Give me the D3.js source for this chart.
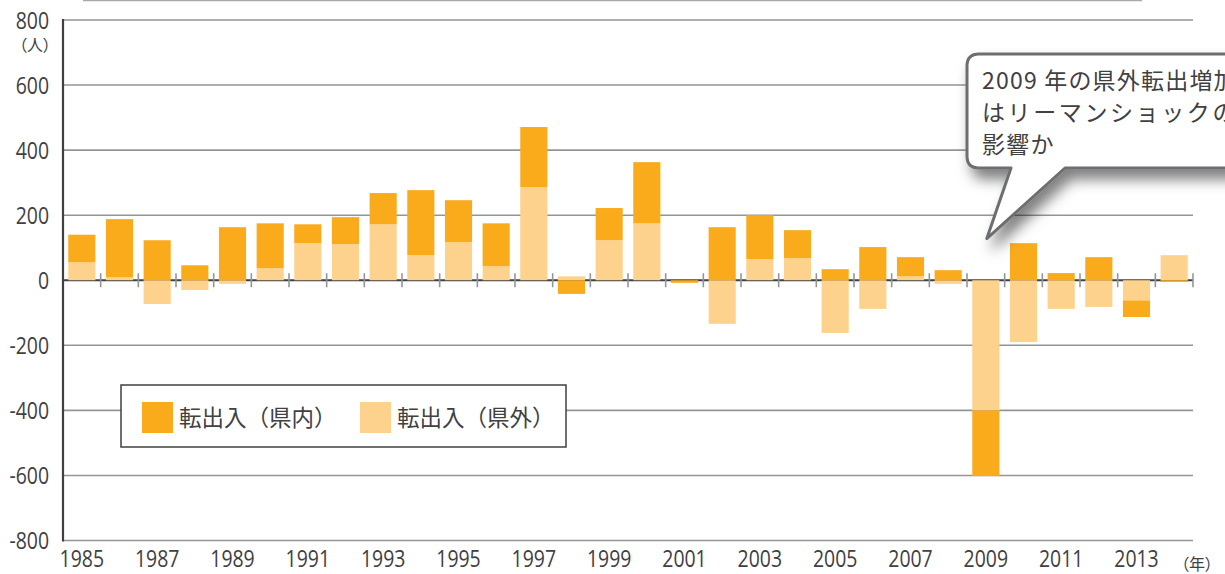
<!DOCTYPE html>
<html>
<head>
  <meta charset="utf-8">
  <title>転出入の推移</title>
  <script src="https://d3js.org/d3.v7.min.js"></script>
  <style>
    body { margin: 0; background: #fff; }
    .num { font-family: "Open Sans", "Noto Sans", sans-serif; fill: #414042; }
    .jp { font-family: "Noto Sans CJK JP", sans-serif; fill: #414042; }
  </style>
</head>
<body>
<script>

// years on the x axis
var years = [1985, 1986, 1987, 1988, 1989, 1990, 1991, 1992, 1993, 1994,
             1995, 1996, 1997, 1998, 1999, 2000, 2001, 2002, 2003, 2004,
             2005, 2006, 2007, 2008, 2009, 2010, 2011, 2012, 2013, 2014];

// 転出入（県内）
var kennai = [85, 179, 123, 46, 163, 138, 58, 83, 96, 200,
              129, 132, 185, -42, 99, 188, -8, 163, 135, 86,
              34, 102, 59, 31, -202, 114, 22, 71, -51, -5];

// 転出入（県外）
var kengai = [55, 9, -73, -30, -11, 37, 114, 111, 172, 77,
              117, 43, 286, 12, 123, 175, 0, -134, 65, 68,
              -162, -88, 12, -11, -400, -190, -88, -82, -62, 77];

var yTicks = [-800, -600, -400, -200, 0, 200, 400, 600, 800];
var legendLabels = ["転出入（県内）", "転出入（県外）"];
var noteLines = ["2009 年の県外転出増加", "はリーマンショックの", "影響か"];

var colDark = "#f9ab1c", colLight = "#fdd28d";
var grid = "#939598", ink = "#414042";

var width = 1225, height = 574;
var margin = {left: 63, right: 32, top: 20, bottom: 33};
var squeeze = 0.81;   // narrow the digits a bit

var svg = d3.select("body").append("svg")
    .attr("width", width)
    .attr("height", height);

var defs = svg.append("defs");
var f = defs.append("filter").attr("id", "shadow")
    .attr("x", "-20%").attr("y", "-20%").attr("width", "150%").attr("height", "190%");
f.append("feDropShadow").attr("dx", 6).attr("dy", 10).attr("stdDeviation", 7)
    .attr("flood-color", "#000").attr("flood-opacity", 0.5);

var x = d3.scaleBand()
    .domain(years)
    .range([margin.left, width - margin.right])
    .paddingInner(0.28)
    .paddingOuter(0.14);

var y = d3.scaleLinear()
    .domain([-800, 800])
    .range([height - margin.bottom - 0.5, margin.top]);

var rows = years.map(function(yr, i) {
  return {year: yr, kengai: kengai[i], kennai: kennai[i]};
});

var series = d3.stack()
    .keys(["kengai", "kennai"])
    .offset(d3.stackOffsetDiverging)(rows);

// stray rule at the very top
svg.append("line")
    .attr("x1", 83).attr("x2", 1142).attr("y1", 0.5).attr("y2", 0.5)
    .attr("stroke", "#a7a9ac").attr("stroke-width", 1.5);

// grid lines
svg.append("g").selectAll("line")
  .data(yTicks.filter(function(d) { return d !== 0; }))
  .enter().append("line")
    .attr("x1", margin.left).attr("x2", width - margin.right)
    .attr("y1", function(d) { return y(d); })
    .attr("y2", function(d) { return y(d); })
    .attr("stroke", grid)
    .attr("stroke-width", 1.6);

// zero line
svg.append("line")
    .attr("x1", margin.left).attr("x2", width - margin.right)
    .attr("y1", y(0)).attr("y2", y(0))
    .attr("stroke", ink).attr("stroke-width", 2);

// ticks between the years
var step = x.step();
svg.append("g").selectAll("line")
  .data(years)
  .enter().append("line")
    .attr("x1", function(d) { return x(d) - x.paddingOuter() * step + step; })
    .attr("x2", function(d) { return x(d) - x.paddingOuter() * step + step; })
    .attr("y1", y(0) - 7).attr("y2", y(0) + 7)
    .attr("stroke", grid).attr("stroke-width", 1.6);

// bars
svg.append("g").selectAll("g")
  .data(series)
  .enter().append("g")
    .attr("fill", function(d) { return d.key === "kennai" ? colDark : colLight; })
  .selectAll("rect")
  .data(function(d) { return d; })
  .enter().append("rect")
    .attr("x", function(d) { return x(d.data.year); })
    .attr("width", x.bandwidth())
    .attr("y", function(d) { return y(Math.max(d[0], d[1])); })
    .attr("height", function(d) { return Math.abs(y(d[0]) - y(d[1])); });

// y axis line
svg.append("line")
    .attr("x1", margin.left).attr("x2", margin.left)
    .attr("y1", y(800) - 1).attr("y2", y(-800) + 1)
    .attr("stroke", ink).attr("stroke-width", 2.2);

// y labels
svg.append("g").selectAll("text")
  .data(yTicks)
  .enter().append("text")
    .attr("class", "num")
    .attr("transform", function(d) { return "translate(49," + y(d) + ") scale(" + squeeze + ",1)"; })
    .attr("dy", "0.36em")
    .attr("text-anchor", "end")
    .style("font-size", "24px")
    .text(function(d) { return d; });

svg.append("text")
    .attr("class", "jp")
    .attr("x", 51).attr("y", 51)
    .attr("text-anchor", "end")
    .style("font-size", "16px")
    .style("font-feature-settings", "'palt'")
    .text("（人）");

// x labels
svg.append("g").selectAll("text")
  .data(years.filter(function(d, i) { return i % 2 === 0; }))
  .enter().append("text")
    .attr("class", "num")
    .attr("transform", function(d) {
      return "translate(" + (x(d) + x.bandwidth() / 2) + ",567) scale(" + squeeze + ",1)";
    })
    .attr("text-anchor", "middle")
    .style("font-size", "24px")
    .text(function(d) { return d; });

svg.append("text")
    .attr("class", "jp")
    .attr("x", 1197).attr("y", 570)
    .attr("text-anchor", "middle")
    .style("font-size", "16px")
    .style("font-feature-settings", "'palt'")
    .text("（年）");

// legend
var lg = svg.append("g");
lg.append("rect")
    .attr("x", 121).attr("y", 385).attr("width", 445).attr("height", 62)
    .attr("fill", "#fff").attr("stroke", ink).attr("stroke-width", 1.5);
var lx = [142, 360];
lg.selectAll(".sw").data(legendLabels).enter().append("rect")
    .attr("x", function(d, i) { return lx[i]; })
    .attr("y", 402).attr("width", 31).attr("height", 31)
    .attr("fill", function(d, i) { return i === 0 ? colDark : colLight; });
lg.selectAll(".lt").data(legendLabels).enter().append("text")
    .attr("class", "jp")
    .attr("x", function(d, i) { return lx[i] + 37; })
    .attr("y", 426)
    .style("font-size", "22.5px")
    .text(function(d) { return d; });

// callout
var tipX = x(2009) + x.bandwidth() / 2 + 1, tipY = y(128);
var bx0 = 967, by0 = 54, by1 = 168, r = 12;
var path = "M" + (bx0 + r) + "," + by0 + "H1270V" + by1 + "H1065" +
    "L" + tipX + "," + tipY + "L1011," + by1 + "H" + (bx0 + r) +
    "Q" + bx0 + "," + by1 + " " + bx0 + "," + (by1 - r) + "V" + (by0 + r) +
    "Q" + bx0 + "," + by0 + " " + (bx0 + r) + "," + by0 + "Z";
svg.append("path")
    .attr("d", path)
    .attr("fill", "#fff")
    .attr("stroke", "#6d6e71")
    .attr("stroke-width", 3)
    .attr("stroke-linejoin", "round")
    .attr("filter", "url(#shadow)");

svg.append("g").selectAll("text")
  .data(noteLines)
  .enter().append("text")
    .attr("class", "jp")
    .attr("x", 982)
    .attr("y", function(d, i) { return 89 + i * 32; })
    .style("font-size", "23px")
    .style("letter-spacing", function(d, i) { return i === 1 ? "2.6px" : "1.2px"; })
    .text(function(d) { return d; });

</script>
</body>
</html>
